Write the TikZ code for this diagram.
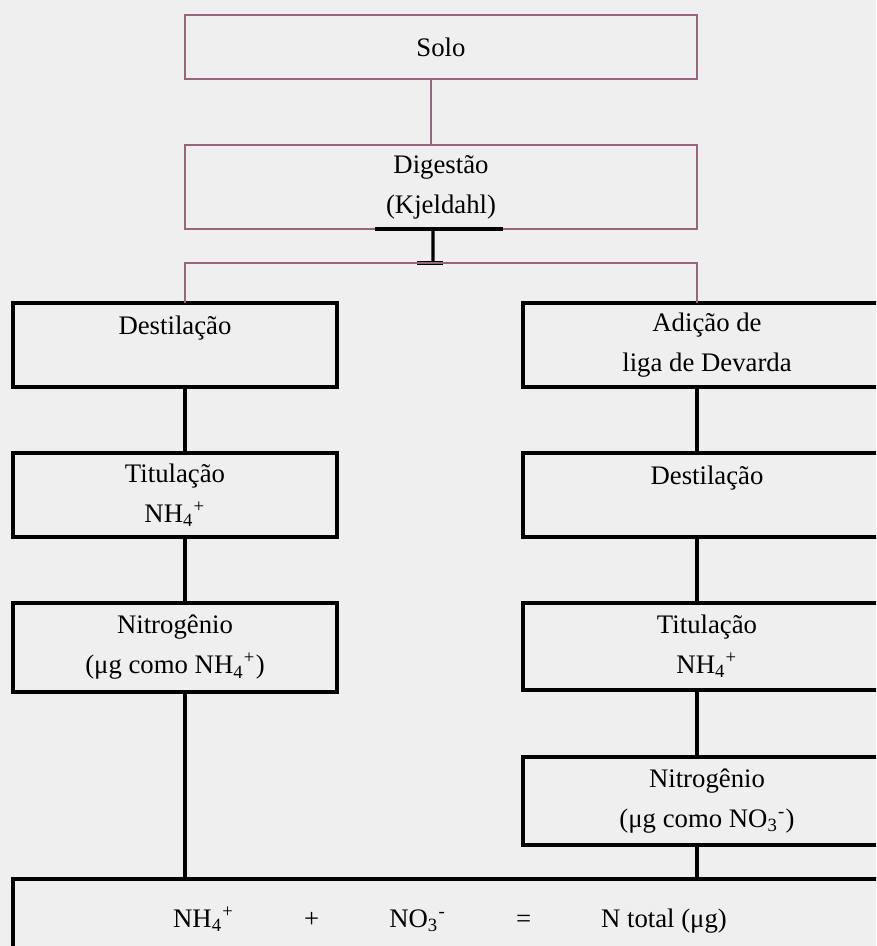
\documentclass[tikz,border=0pt]{standalone}
\usepackage{fontspec}
\setmainfont{Liberation Serif}
\usetikzlibrary{positioning}

\definecolor{paper}{RGB}{239,239,239}
\definecolor{mauve}{RGB}{152,100,126}

\begin{document}
\begin{tikzpicture}[x=0.4pt, y=-0.4pt, node distance=26.4pt,
  every node/.style={font=\fontsize{10.7}{16}\selectfont, align=center, outer sep=0pt},
  thinbox/.style={draw=mauve, line width=1.1pt, minimum width=204.8pt},
  thickbox/.style={draw=black, line width=1.8pt, minimum height=33.6pt},
  leftbox/.style={thickbox, minimum width=129.6pt},
  rightbox/.style={thickbox, minimum width=147.2pt},
  thinline/.style={draw=mauve, line width=1.1pt},
  thickline/.style={draw=black, line width=1.8pt}]

\fill[paper] (0,0) rectangle (876,946);
\clip (0,0) rectangle (876,946);

% top of the scheme
\node[thinbox, minimum height=25.6pt] (solo) at (441,47) {Solo};
\node[thinbox, minimum height=33.6pt] (dig) at (441,187) {Digestão\\(Kjeldahl)};
\coordinate (fork) at (433,263);

% NH4+ branch
\node[leftbox] (ldest) at (175,345) {Destilação\\\mbox{}};
\node[leftbox, below=of ldest] (ltit) {Titulação\\NH\textsubscript{4}\textsuperscript{+}};
\node[leftbox, minimum height=35.6pt, below=of ltit] (lnit) {Nitrogênio\\(μg como NH\textsubscript{4}\textsuperscript{+})};

% NO3- branch
\node[rightbox] (radd) at (707,345) {Adição de\\liga de Devarda};
\node[rightbox, below=of radd] (rdest) {Destilação\\\mbox{}};
\node[rightbox, minimum height=34.8pt, below=of rdest] (rtit) {Titulação\\NH\textsubscript{4}\textsuperscript{+}};
\node[rightbox, minimum height=35.2pt, below=26.8pt of rtit] (rnit) {Nitrogênio\\(μg como NO\textsubscript{3}\textsuperscript{-})};

% sum
\node[thickbox, anchor=north west, minimum width=400pt, minimum height=48pt] (total) at (13,879) {};
\node (sum) at (450,920) {NH\textsubscript{4}\textsuperscript{+}\hspace{28pt}+\hspace{28pt}NO\textsubscript{3}\textsuperscript{-}\hspace{28pt}=\hspace{28pt}N total (μg)};

% connectors
\draw[thinline] ([xshift=-4pt]solo.south) -- ([xshift=-4pt]solo.south |- dig.north);
\draw[line width=1.3pt] ([xshift=-26.4pt]dig.south) -- ([xshift=24.8pt]dig.south);
\draw[line width=1.3pt] ([xshift=-3.2pt]dig.south) -- (fork);
\draw[line width=1.3pt] ([xshift=-6.4pt]fork) -- ([xshift=4pt]fork);
\draw[thinline] (ldest.north -| dig.west) |- (fork) -| (radd.north -| dig.east);

\draw[thickline] (ldest.south -| dig.west) -- (ltit.north -| dig.west);
\draw[thickline] (ltit.south -| dig.west) -- (lnit.north -| dig.west);
\draw[thickline] (lnit.south -| dig.west) -- (total.north -| dig.west);

\draw[thickline] (radd.south -| dig.east) -- (rdest.north -| dig.east);
\draw[thickline] (rdest.south -| dig.east) -- (rtit.north -| dig.east);
\draw[thickline] (rtit.south -| dig.east) -- (rnit.north -| dig.east);
\draw[thickline] (rnit.south -| dig.east) -- (total.north -| dig.east);
\end{tikzpicture}
\end{document}
